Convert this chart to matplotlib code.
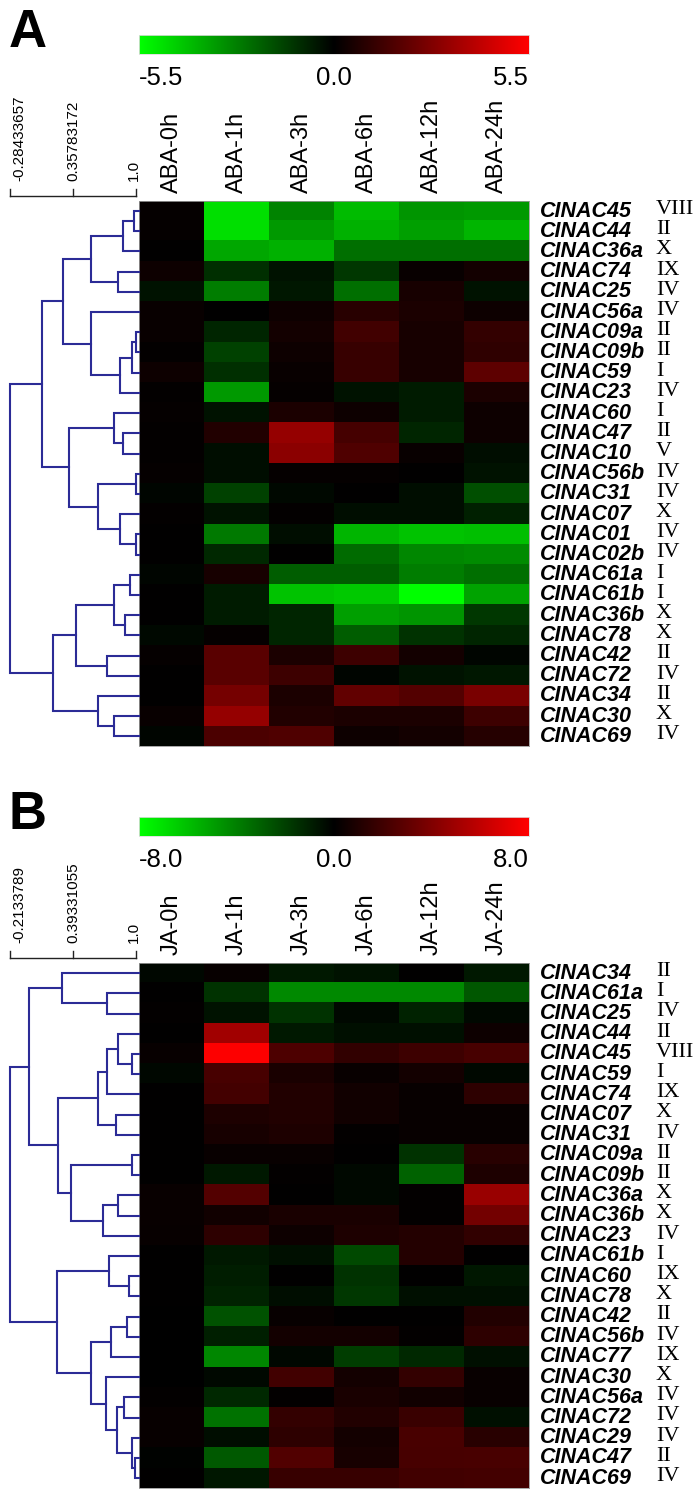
import numpy as np
import matplotlib
matplotlib.use('Agg')
from matplotlib import pyplot as plt
from matplotlib.colors import LinearSegmentedColormap
from matplotlib import transforms

# ---- panel A: ABA ----
aba_cols = ['ABA-0h', 'ABA-1h', 'ABA-3h', 'ABA-6h', 'ABA-12h', 'ABA-24h']
aba_genes = ['CINAC45', 'CINAC44', 'CINAC36a', 'CINAC74', 'CINAC25', 'CINAC56a', 'CINAC09a',
             'CINAC09b', 'CINAC59', 'CINAC23', 'CINAC60', 'CINAC47', 'CINAC10', 'CINAC56b',
             'CINAC31', 'CINAC07', 'CINAC01', 'CINAC02b', 'CINAC61a', 'CINAC61b', 'CINAC36b',
             'CINAC78', 'CINAC42', 'CINAC72', 'CINAC34', 'CINAC30', 'CINAC69']
aba_groups = ['VIII', 'II', 'X', 'IX', 'IV', 'IV', 'II', 'II', 'I', 'IV', 'I', 'II', 'V', 'IV',
              'IV', 'X', 'IV', 'IV', 'I', 'I', 'X', 'X', 'II', 'IV', 'II', 'X', 'IV']
aba_vals = [
    [0.1, -4.8, -2.8, -4.0, -3.2, -3.3],
    [0.1, -4.8, -3.3, -3.8, -3.4, -3.9],
    [0.0, -3.6, -3.8, -2.4, -2.4, -2.4],
    [0.3, -1.0, -0.4, -1.2, 0.2, 0.4],
    [-0.4, -2.7, -0.5, -2.4, 0.5, -0.4],
    [0.2, 0.0, 0.3, 0.9, 0.6, 0.3],
    [0.2, -0.8, 0.4, 1.4, 0.5, 1.1],
    [0.05, -1.4, 0.3, 1.2, 0.5, 1.0],
    [0.3, -1.0, 0.2, 1.2, 0.5, 2.0],
    [0.05, -3.3, 0.1, -0.4, -0.6, 0.6],
    [0.1, -0.4, 0.6, 0.3, -0.6, 0.3],
    [0.05, 0.7, 3.2, 1.5, -0.8, 0.3],
    [0.05, -0.3, 3.0, 1.7, 0.2, -0.3],
    [0.1, -0.3, 0.1, 0.1, 0.0, -0.4],
    [-0.1, -1.4, -0.2, 0.0, -0.3, -1.7],
    [0.05, -0.4, 0.05, -0.3, -0.3, -0.7],
    [0.0, -2.6, -0.3, -3.9, -4.2, -4.1],
    [0.0, -0.9, 0.0, -2.3, -2.9, -3.0],
    [-0.1, 0.5, -2.0, -2.0, -2.7, -2.4],
    [0.0, -0.6, -4.2, -4.3, -5.5, -3.5],
    [0.0, -0.6, -0.8, -3.4, -3.2, -1.2],
    [-0.2, 0.1, -0.8, -2.0, -1.1, -0.8],
    [0.1, 1.9, 0.6, 1.3, 0.4, -0.1],
    [0.0, 1.9, 1.3, -0.1, -0.4, -0.5],
    [0.0, 2.5, 0.6, 2.1, 1.8, 2.6],
    [0.2, 3.2, 0.7, 0.6, 0.6, 1.3],
    [-0.1, 1.6, 1.7, 0.3, 0.4, 0.8],
]
aba_lim = 5.5
aba_scale = ['-0.28433657', '0.35783172', '1.0']
# merges: (child a, child b, similarity); leaves 0..n-1, new nodes n, n+1, ...
aba_tree = [
    (0, 1, 0.980), (27, 2, 0.867), (3, 4, 0.816), (28, 29, 0.546),
    (6, 7, 0.995), (31, 8, 0.959), (32, 9, 0.842), (5, 33, 0.546),
    (30, 34, 0.251), (11, 12, 0.867), (10, 36, 0.776), (13, 14, 0.995),
    (16, 17, 0.995), (15, 39, 0.842), (38, 40, 0.613), (37, 41, 0.317),
    (35, 42, 0.046), (18, 19, 0.934), (20, 21, 0.888), (44, 45, 0.776),
    (22, 23, 0.704), (46, 47, 0.388), (25, 26, 0.776), (24, 49, 0.613),
    (48, 50, 0.154), (43, 51, -0.284),
]

# ---- panel B: JA ----
ja_cols = ['JA-0h', 'JA-1h', 'JA-3h', 'JA-6h', 'JA-12h', 'JA-24h']
ja_genes = ['CINAC34', 'CINAC61a', 'CINAC25', 'CINAC44', 'CINAC45', 'CINAC59', 'CINAC74',
            'CINAC07', 'CINAC31', 'CINAC09a', 'CINAC09b', 'CINAC36a', 'CINAC36b', 'CINAC23',
            'CINAC61b', 'CINAC60', 'CINAC78', 'CINAC42', 'CINAC56b', 'CINAC77', 'CINAC30',
            'CINAC56a', 'CINAC72', 'CINAC29', 'CINAC47', 'CINAC69']
ja_groups = ['II', 'I', 'IV', 'II', 'VIII', 'I', 'IX', 'X', 'IV', 'II', 'II', 'X', 'X', 'IV',
             'I', 'IX', 'X', 'II', 'IV', 'IX', 'X', 'IV', 'IV', 'IV', 'II', 'IV']
ja_vals = [
    [-0.2, 0.2, -0.8, -0.6, 0.0, -0.8],
    [0.0, -1.6, -4.3, -4.3, -4.3, -2.7],
    [0.1, -0.6, -1.6, -0.3, -1.1, -0.3],
    [0.05, 5.0, -0.8, -0.5, -0.5, 0.4],
    [0.2, 7.9, 2.4, 1.5, 1.9, 2.2],
    [-0.2, 2.2, 0.8, 0.3, 0.6, -0.3],
    [0.0, 2.1, 1.0, 0.5, 0.2, 1.4],
    [0.0, 0.9, 1.0, 0.5, 0.2, 0.2],
    [0.0, 0.7, 0.9, 0.1, 0.2, 0.2],
    [0.0, 0.3, 0.3, 0.0, -1.6, 1.3],
    [0.05, -0.8, 0.1, -0.3, -3.1, 0.9],
    [0.3, 2.6, 0.0, -0.3, 0.1, 4.8],
    [0.3, 0.5, 0.8, 0.8, 0.1, 3.6],
    [0.2, 1.4, 0.4, 0.9, 1.1, 1.5],
    [0.0, -0.8, -0.5, -2.3, 1.1, 0.0],
    [0.0, -0.9, 0.0, -1.6, 0.05, -0.7],
    [0.0, -1.1, -0.4, -1.7, -0.5, -0.5],
    [-0.05, -2.6, 0.2, 0.0, 0.0, 1.0],
    [-0.05, -1.0, 0.6, 0.6, 0.1, 1.4],
    [-0.05, -4.2, -0.2, -1.9, -1.3, -0.5],
    [-0.05, -0.3, 2.0, 0.6, 1.6, 0.3],
    [0.1, -1.3, 0.1, 0.8, 0.5, 0.3],
    [0.2, -3.6, 1.6, 1.0, 1.8, -0.5],
    [0.2, -0.4, 1.4, 0.6, 2.3, 1.3],
    [-0.1, -2.8, 2.5, 0.7, 2.2, 2.3],
    [0.0, -0.7, 1.7, 1.7, 2.0, 2.1],
]
ja_lim = 8.0
ja_scale = ['-0.2133789', '0.39331055', '1.0']
ja_tree = [
    (1, 2, 0.721), (0, 26, 0.292), (4, 5, 0.961), (3, 28, 0.827),
    (29, 6, 0.720), (7, 8, 0.807), (30, 31, 0.634), (9, 10, 0.961),
    (11, 12, 0.827), (34, 13, 0.682), (33, 35, 0.374), (32, 36, 0.249),
    (27, 37, -0.030), (15, 16, 0.937), (14, 39, 0.740), (17, 18, 0.913),
    (41, 19, 0.759), (21, 22, 0.884), (24, 25, 0.995), (23, 44, 0.966),
    (43, 45, 0.817), (20, 46, 0.711), (42, 47, 0.571), (40, 48, 0.239),
    (38, 49, -0.2134),
]

cmap = LinearSegmentedColormap.from_list('gbr', ['#00ff00', '#000000', '#ff0000'])
W, H = 700, 1494
SANS = 'Liberation Sans'
SERIF = 'Liberation Serif'
TREE_COL = '#2b2b96'

fig = plt.figure(figsize=(W / 100, H / 100), dpi=100)


def px_axes(x0, y0, x1, y1):
    return fig.add_axes([x0 / W, 1 - y1 / H, (x1 - x0) / W, (y1 - y0) / H])


def draw_panel(letter, cb_top, top, cols, genes, groups, vals, lim, scale, tree):
    rowh = 20.2
    bottom = top + rowh * len(genes)
    hx0, hx1 = 139, 529

    fig.text(9 / W, 1 - (cb_top + 12) / H, letter, fontsize=38, fontweight='bold',
             family=SANS, va='baseline', ha='left')

    # colour bar
    cax = px_axes(hx0, cb_top, hx1, cb_top + 19)
    cax.imshow(np.linspace(-lim, lim, 256)[None, :], cmap=cmap, aspect='auto',
               vmin=-lim, vmax=lim)
    cax.set_xticks([])
    cax.set_yticks([])
    for s in cax.spines.values():
        s.set_color('#dddddd')
        s.set_linewidth(0.6)
    ty = 1 - (cb_top + 31) / H
    fig.text(hx0 / W, ty, f'{-lim:.1f}', fontsize=18.5, family=SANS, va='top', ha='left')
    fig.text((hx0 + hx1) / 2 / W, ty, '0.0', fontsize=18.5, family=SANS, va='top', ha='center')
    fig.text(hx1 / W, ty, f'{lim:.1f}', fontsize=18.5, family=SANS, va='top', ha='right')

    # heatmap
    ax = px_axes(hx0, top, hx1, bottom)
    data = np.array(vals)
    ax.imshow(data, cmap=cmap, vmin=-lim, vmax=lim, aspect='auto', interpolation='nearest')
    ax.set_xticks([])
    ax.set_yticks([])
    for s in ax.spines.values():
        s.set_color('#999999')
        s.set_linewidth(0.6)
    for j, c in enumerate(cols):
        ax.annotate(c, (j, -0.5), xytext=(0, 6), textcoords='offset points', rotation=90,
                    ha='center', va='bottom', fontsize=17, family=SANS)
    tr = transforms.blended_transform_factory(fig.transFigure, ax.transData)
    for i, (g, grp) in enumerate(zip(genes, groups)):
        ax.text(540 / W, i, g, transform=tr, fontsize=15.5, family=SANS, fontweight='bold',
                fontstyle='italic', va='center', ha='left')
        ax.text(656 / W, i - 0.08, grp, transform=tr, fontsize=16, family=SERIF,
                va='center', ha='left')

    # dendrogram
    vals_s = [float(v) for v in scale]
    lo, hi = vals_s[0], vals_s[-1]
    span = hi - lo
    dax = px_axes(10, top, hx0, bottom)
    leaf_x = hi + span * 3 / 126
    dax.set_xlim(lo, leaf_x)
    dax.set_ylim(len(genes) - 0.5, -0.5)
    dax.axis('off')
    nodes = [(leaf_x, float(i)) for i in range(len(genes))]
    for a, b, h in tree:
        xa, ya = nodes[a]
        xb, yb = nodes[b]
        dax.plot([xa, h, h, xb], [ya, ya, yb, yb], color=TREE_COL, lw=1.5,
                 solid_joinstyle='miter', clip_on=False)
        nodes.append((h, (ya + yb) / 2))

    # similarity scale bar
    sax = px_axes(10, top - 20, 10 + 126, top - 5)
    sax.set_xlim(lo, hi)
    sax.set_ylim(0, 1)
    sax.axis('off')
    sax.plot([lo, hi], [0, 0], color='#222222', lw=1.0, clip_on=False)
    for k, (lab, v) in enumerate(zip(scale, vals_s)):
        sax.plot([v, v], [0, 0.45], color='#222222', lw=1.0, clip_on=False)
        off = 9 if k == 0 else (-2 if k == len(scale) - 1 else 0)
        sax.annotate(lab, (v, 1.0), xytext=(off * 0.72, 0), textcoords='offset points',
                     rotation=90, ha='center', va='bottom', fontsize=11, family=SANS)


draw_panel('A', 35, 201, aba_cols, aba_genes, aba_groups, aba_vals, aba_lim, aba_scale, aba_tree)
draw_panel('B', 817, 963, ja_cols, ja_genes, ja_groups, ja_vals, ja_lim, ja_scale, ja_tree)

fig.savefig('out.png', dpi=100, facecolor='white')
